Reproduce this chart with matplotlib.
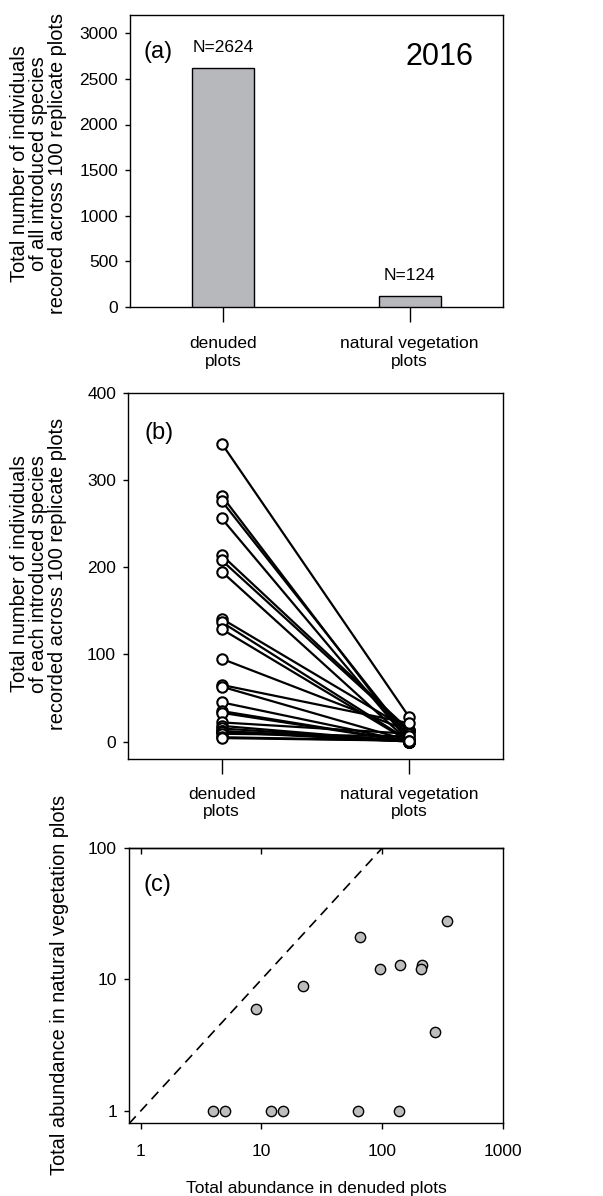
import matplotlib
matplotlib.use("Agg")
import matplotlib.pyplot as plt
import numpy as np

plt.rcParams['font.family'] = ['Liberation Sans', 'DejaVu Sans']

# ---- data ----
categories = ["denuded\nplots", "natural vegetation\nplots"]
totals = [2624, 124]
total_labels = ["N=2624", "N=124"]

# per-species totals (denuded, natural vegetation)
denuded = [342, 282, 276, 256, 214, 208, 195, 141, 137, 129, 95, 65, 63,
           45, 35, 33, 22, 18, 15, 12, 12, 11, 9, 5, 4]
natural = [28, 0, 4, 0, 13, 12, 0, 13, 1, 0, 12, 21, 1,
           0, 0, 0, 9, 0, 1, 1, 0, 0, 6, 1, 1]

W, H = 603, 1196
fig = plt.figure(figsize=(W / 100, H / 100), dpi=100)


def ax_px(left, top, right, bottom):
    return fig.add_axes([left / W, 1 - bottom / H, (right - left) / W, (bottom - top) / H])


tick_fs = 12.5
lab_fs = 14.4
x = np.arange(len(categories))

# ---------- (a) ----------
axa = ax_px(130, 15, 503, 307)
axa.bar(x, totals, width=0.33, color="#b7b8bc", edgecolor="black", linewidth=1.0, zorder=3)
axa.set_xlim(-0.5, 1.5)
axa.set_ylim(0, 3200)
axa.set_yticks([0, 500, 1000, 1500, 2000, 2500, 3000])
axa.set_xticks(x)
axa.set_xticklabels(categories, fontsize=tick_fs, linespacing=1.2)
axa.tick_params(axis='x', direction='out', length=11, width=1, pad=10)
axa.tick_params(axis='y', direction='out', length=3.6, width=1, pad=5, labelsize=tick_fs)
for xi, v, lab in zip(x, totals, total_labels):
    axa.text(xi, v + 140, lab, ha='center', va='bottom', fontsize=tick_fs)
axa.text(0.0375, 0.873, "(a)", transform=axa.transAxes, fontsize=17, ha='left', va='center')
axa.text(0.831, 0.856, "2016", transform=axa.transAxes, fontsize=22, ha='center', va='center')
fig.text(39 / W, 1 - 164 / H,
         "Total number of individuals\nof all introduced species\nrecored across 100 replicate plots",
         rotation=90, ha='center', va='center', fontsize=lab_fs, linespacing=1.0,
         multialignment='center')

# ---------- (b) ----------
axb = ax_px(128, 393, 503, 759)
for d, n in zip(denuded, natural):
    axb.plot(x, [d, n], color='black', linewidth=1.6, marker='o', markersize=7.5,
             markerfacecolor='white', markeredgecolor='black', markeredgewidth=1.5, zorder=3)
axb.set_xlim(-0.5, 1.5)
axb.set_ylim(-20, 400)
axb.set_yticks([0, 100, 200, 300, 400])
axb.set_xticks(x)
axb.set_xticklabels(categories, fontsize=tick_fs, linespacing=1.2)
axb.tick_params(axis='x', direction='out', length=11, width=1, pad=9)
axb.tick_params(axis='y', direction='out', length=3.6, width=1, pad=5, labelsize=tick_fs)
axb.text(0.045, 0.89, "(b)", transform=axb.transAxes, fontsize=17, ha='left', va='center')
fig.text(39 / W, 1 - 574 / H,
         "Total number of individuals\nof each introduced species\nrecorded across 100 replicate plots",
         rotation=90, ha='center', va='center', fontsize=lab_fs, linespacing=1.0,
         multialignment='center')

# ---------- (c) ----------
axc = ax_px(129, 848, 503, 1123)
dn = np.array(denuded, dtype=float)
nn = np.array(natural, dtype=float)
mask = nn > 0
axc.plot([0.8, 100], [0.8, 100], linestyle=(0, (6, 4)), color='black', linewidth=1.2, zorder=2)
axc.scatter(dn[mask], nn[mask], s=55, facecolor="#bdbdbf", edgecolor='black', linewidth=1.0, zorder=3)
axc.set_xscale('log')
axc.set_yscale('log')
axc.set_xlim(0.8, 1000)
axc.set_ylim(0.81, 100)
axc.set_xticks([1, 10, 100, 1000])
axc.set_xticklabels(["1", "10", "100", "1000"])
axc.set_yticks([1, 10, 100])
axc.set_yticklabels(["1", "10", "100"])
axc.minorticks_off()
axc.tick_params(axis='x', direction='out', length=4, width=1, pad=11, labelsize=tick_fs)
axc.tick_params(axis='y', direction='out', length=3.6, width=1, pad=5, labelsize=tick_fs)
sec = axc.secondary_xaxis('top')
sec.set_xticks([1, 10, 100])
sec.minorticks_off()
sec.tick_params(direction='in', length=4, width=1, labeltop=False)
sec.spines['top'].set_linewidth(1.0)
axc.text(0.04, 0.865, "(c)", transform=axc.transAxes, fontsize=17, ha='left', va='center')
axc.set_xlabel("Total abundance in denuded plots", fontsize=tick_fs, labelpad=16)
fig.text(60 / W, 1 - 985 / H, "Total abundance in natural vegetation plots",
         rotation=90, ha='center', va='center', fontsize=lab_fs)

for ax in (axa, axb, axc):
    for s in ax.spines.values():
        s.set_linewidth(1.0)

fig.savefig("out.png", dpi=100)
